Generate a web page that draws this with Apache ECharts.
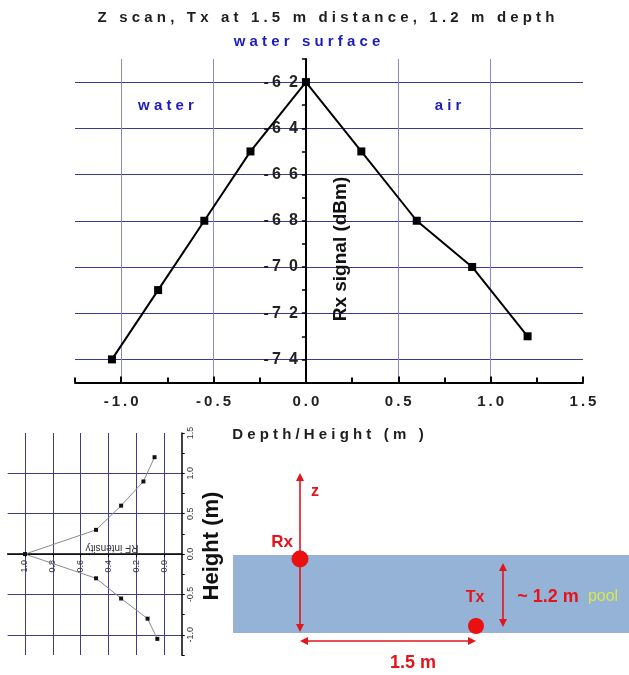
<!DOCTYPE html>
<html>
<head>
<meta charset="utf-8">
<script src="https://cdn.jsdelivr.net/npm/echarts@6/dist/echarts.min.js"></script>
<style>html,body{margin:0;padding:0;background:#fff}#main{width:629px;height:675px}</style>
</head>
<body>
<div id="main"></div>
<script>
// z scan: Rx signal vs depth/height
let scan_x = [-1.05, -0.8, -0.55, -0.3, 0, 0.3, 0.6, 0.9, 1.2];
let scan_y = [-74, -71, -68, -65, -62, -65, -68, -70, -73];
// ticks main plot
let x_major = [-1, -0.5, 0, 0.5, 1, 1.5];
let x_minor = [-1.25, -0.75, -0.25, 0.25, 0.75, 1.25];
let y_labels = [-74, -72, -70, -68, -66, -64, -62];
let y_ticks = [-75, -74, -73, -72, -71, -70, -69, -68, -67, -66, -65, -64, -63, -62, -61];

// small rotated plot: RF intensity vs height
let rf_height = [1.2, 0.9, 0.6, 0.3, 0, -0.3, -0.55, -0.8, -1.05];
let rf_int = [0.07, 0.15, 0.31, 0.49, 1.0, 0.49, 0.31, 0.12, 0.05];
let rf_ticks = [0, 0.2, 0.4, 0.6, 0.8, 1.0];
let h_labels = [-1, -0.5, 0, 0.5, 1, 1.5];
let h_ticks = [-1.25, -1, -0.75, -0.5, -0.25, 0, 0.25, 0.5, 0.75, 1, 1.25, 1.5];
let h_grid = [-1, -0.5, 0, 0.5, 1];

let chart = echarts.init(document.getElementById('main'));

//字母间距，echarts没有letterSpacing
function spaced(s, sep){
    return s.split('').join(sep);
}

let red = '#e3151b';
let blue = '#1c1cbe';
let font = "'Liberation Sans', Arial, sans-serif";

//grid尺寸，坐标轴放到0处用offset (onZero不带标签)
let g0 = {left:75, top:59, width:508, height:323.5};
let g1 = {left:7.6, top:433, width:174.1, height:222};
let y0_offset = -g0.width * (0 - (-1.25)) / (1.5 - (-1.25));
let x2_offset = -g1.height * (0 - (-1.25)) / (1.5 - (-1.25));

//双头箭头
function arrow(x1, y1, x2, y2){
    let dx = x2 - x1, dy = y2 - y1;
    let len = Math.sqrt(dx*dx + dy*dy);
    let ux = dx/len, uy = dy/len;
    let hl = 8, hw = 4;
    let head = function(px, py, sx, sy){
        return {type:'polygon', silent:true, shape:{points:[
            [px, py],
            [px - sx*hl - sy*hw, py - sy*hl + sx*hw],
            [px - sx*hl + sy*hw, py - sy*hl - sx*hw]
        ]}, style:{fill:red}};
    };
    return [
        {type:'line', silent:true, shape:{x1:x1 + ux*4, y1:y1 + uy*4, x2:x2 - ux*4, y2:y2 - uy*4}, style:{stroke:red, lineWidth:1.6}},
        head(x2, y2, ux, uy),
        head(x1, y1, -ux, -uy)
    ];
}

function txt(x, y, text, st, rot){
    return {type:'text', x:x, y:y, rotation:rot || 0, silent:true, z:10,
        style:Object.assign({text:text, align:'center', verticalAlign:'middle', font:'bold 15px ' + font, fill:'#222'}, st)};
}

let graphics = [
    txt(326, 18, spaced('Z scan, Tx at 1.5 m distance, 1.2 m depth', ' '), {font:'bold 15px ' + font, fill:'#1e1e1e'}),
    txt(307, 42, spaced('water surface', ' '), {font:'bold 15px ' + font, fill:blue}),
    txt(166, 106, spaced('water', ' '), {font:'bold 15px ' + font, fill:blue}),
    txt(448, 106, spaced('air', ' '), {font:'bold 15px ' + font, fill:blue}),
    txt(341, 249, 'Rx signal (dBm)', {font:'bold 19px ' + font, fill:'#111'}, Math.PI/2),
    txt(328, 435, spaced('Depth/Height (m )', ' '), {font:'bold 15px ' + font, fill:'#1e1e1e'}),
    txt(112, 548, 'RF intensity', {font:'10px ' + font, fill:'#333'}, Math.PI),
    txt(212, 546, 'Height (m)', {font:'bold 22px ' + font, fill:'#111'}, Math.PI/2),
    //示意图
    {type:'rect', silent:true, shape:{x:233, y:555, width:396, height:78}, style:{fill:'#95b3d7'}}
];
graphics = graphics.concat(arrow(300, 473, 300, 632));
graphics = graphics.concat(arrow(300, 641, 476, 641));
graphics = graphics.concat(arrow(503, 563, 503, 627));
graphics.push({type:'circle', silent:true, z:5, shape:{cx:300, cy:559, r:8.5}, style:{fill:'#ea1010'}});
graphics.push({type:'circle', silent:true, z:5, shape:{cx:476, cy:626, r:8}, style:{fill:'#ea1010'}});
graphics.push(txt(315, 492, 'z', {font:'bold 16px ' + font, fill:red}));
graphics.push(txt(282, 542, 'Rx', {font:'bold 17px ' + font, fill:red}));
graphics.push(txt(475, 598, 'Tx', {font:'bold 16px ' + font, fill:red}));
graphics.push(txt(548, 597, '~ 1.2 m', {font:'bold 18px ' + font, fill:red}));
graphics.push(txt(603, 597, 'pool', {font:'16px ' + font, fill:'#d8e84a'}));
graphics.push(txt(413, 663, '1.5 m', {font:'bold 18px ' + font, fill:red}));

let scan_data = [];
for(let i in scan_x){
    scan_data.push([scan_x[i], scan_y[i]]);
}
let rf_data = [];
for(let i in rf_int){
    rf_data.push([rf_int[i], rf_height[i]]);
}

let label_font = {fontFamily:font, fontWeight:'bold', fontSize:15, color:'#222'};

let option = {
    backgroundColor:'#fff',
    animation:false,
    grid:[g0, g1],
    xAxis:[
        {
            gridIndex:0, type:'value', min:-1.25, max:1.5, position:'bottom',
            axisLine:{onZero:false, lineStyle:{color:'#000', width:2}},
            axisTick:{inside:true, length:6, customValues:x_major, lineStyle:{color:'#000', width:2}},
            axisLabel:Object.assign({customValues:x_major, margin:12, formatter:function(v){
                return spaced(v.toFixed(1), '\u2009');
            }}, label_font),
            splitLine:{show:true, showMaxLine:false, lineStyle:{color:'#8a8ac8', width:1}}
        },
        {
            gridIndex:0, type:'value', min:-1.25, max:1.5, position:'bottom',
            axisLine:{show:false, onZero:false},
            axisTick:{inside:true, length:5, customValues:x_minor, lineStyle:{color:'#000', width:2}},
            axisLabel:{show:false},
            splitLine:{show:false}
        },
        {
            gridIndex:1, type:'value', min:-0.125, max:1.125, inverse:true,
            position:'bottom', offset:x2_offset,
            axisLine:{onZero:false, lineStyle:{color:'#000', width:1.5}},
            axisTick:{length:3, customValues:rf_ticks, lineStyle:{color:'#000'}},
            axisLabel:{customValues:rf_ticks, rotate:90, margin:6, fontSize:9, fontFamily:font, color:'#333', formatter:function(v){
                return v.toFixed(1);
            }},
            splitLine:{show:true, lineStyle:{color:'#3d3d8a', width:1}}
        }
    ],
    yAxis:[
        {
            gridIndex:0, type:'value', min:-75, max:-61,
            position:'left', offset:y0_offset,
            axisLine:{onZero:false, lineStyle:{color:'#000', width:2}},
            axisTick:{length:4, customValues:y_ticks, lineStyle:{color:'#000', width:1.5}},
            axisLabel:Object.assign({customValues:y_labels, margin:8, formatter:function(v){
                let s = String(v);
                return s[0] + '\u2009' + s[1] + '\u2002' + s[2];
            }}, label_font, {fontSize:16}),
            splitLine:{show:false}
        },
        {
            gridIndex:0, type:'value', min:-75, max:-61,
            axisLine:{show:false, onZero:false},
            axisTick:{show:false, customValues:y_labels},
            axisLabel:{show:false},
            splitLine:{show:true, lineStyle:{color:'#3a3a98', width:1}}
        },
        {
            gridIndex:1, type:'value', min:-1.25, max:1.5, position:'right',
            axisLine:{onZero:false, lineStyle:{color:'#000', width:1.5}},
            axisTick:{length:3, customValues:h_ticks, lineStyle:{color:'#000'}},
            axisLabel:{customValues:h_labels, rotate:90, margin:4, fontSize:9, fontFamily:font, color:'#333', formatter:function(v){
                return v.toFixed(1);
            }},
            splitLine:{show:false}
        },
        {
            gridIndex:1, type:'value', min:-1.25, max:1.5,
            axisLine:{show:false, onZero:false},
            axisTick:{show:false, customValues:h_grid},
            axisLabel:{show:false},
            splitLine:{show:true, lineStyle:{color:'#3d3d8a', width:1}}
        }
    ],
    series:[
        {
            name:'Rx signal', type:'line', xAxisIndex:0, yAxisIndex:0,
            data:scan_data, symbol:'rect', symbolSize:8, z:5,
            lineStyle:{color:'#000', width:2},
            itemStyle:{color:'#000'}
        },
        {
            name:'RF intensity', type:'line', xAxisIndex:2, yAxisIndex:2,
            data:rf_data, symbol:'rect', symbolSize:4, z:5,
            lineStyle:{color:'#8a8a8a', width:1},
            itemStyle:{color:'#111'}
        }
    ],
    graphic:graphics
};
chart.setOption(option);
</script>
</body>
</html>
